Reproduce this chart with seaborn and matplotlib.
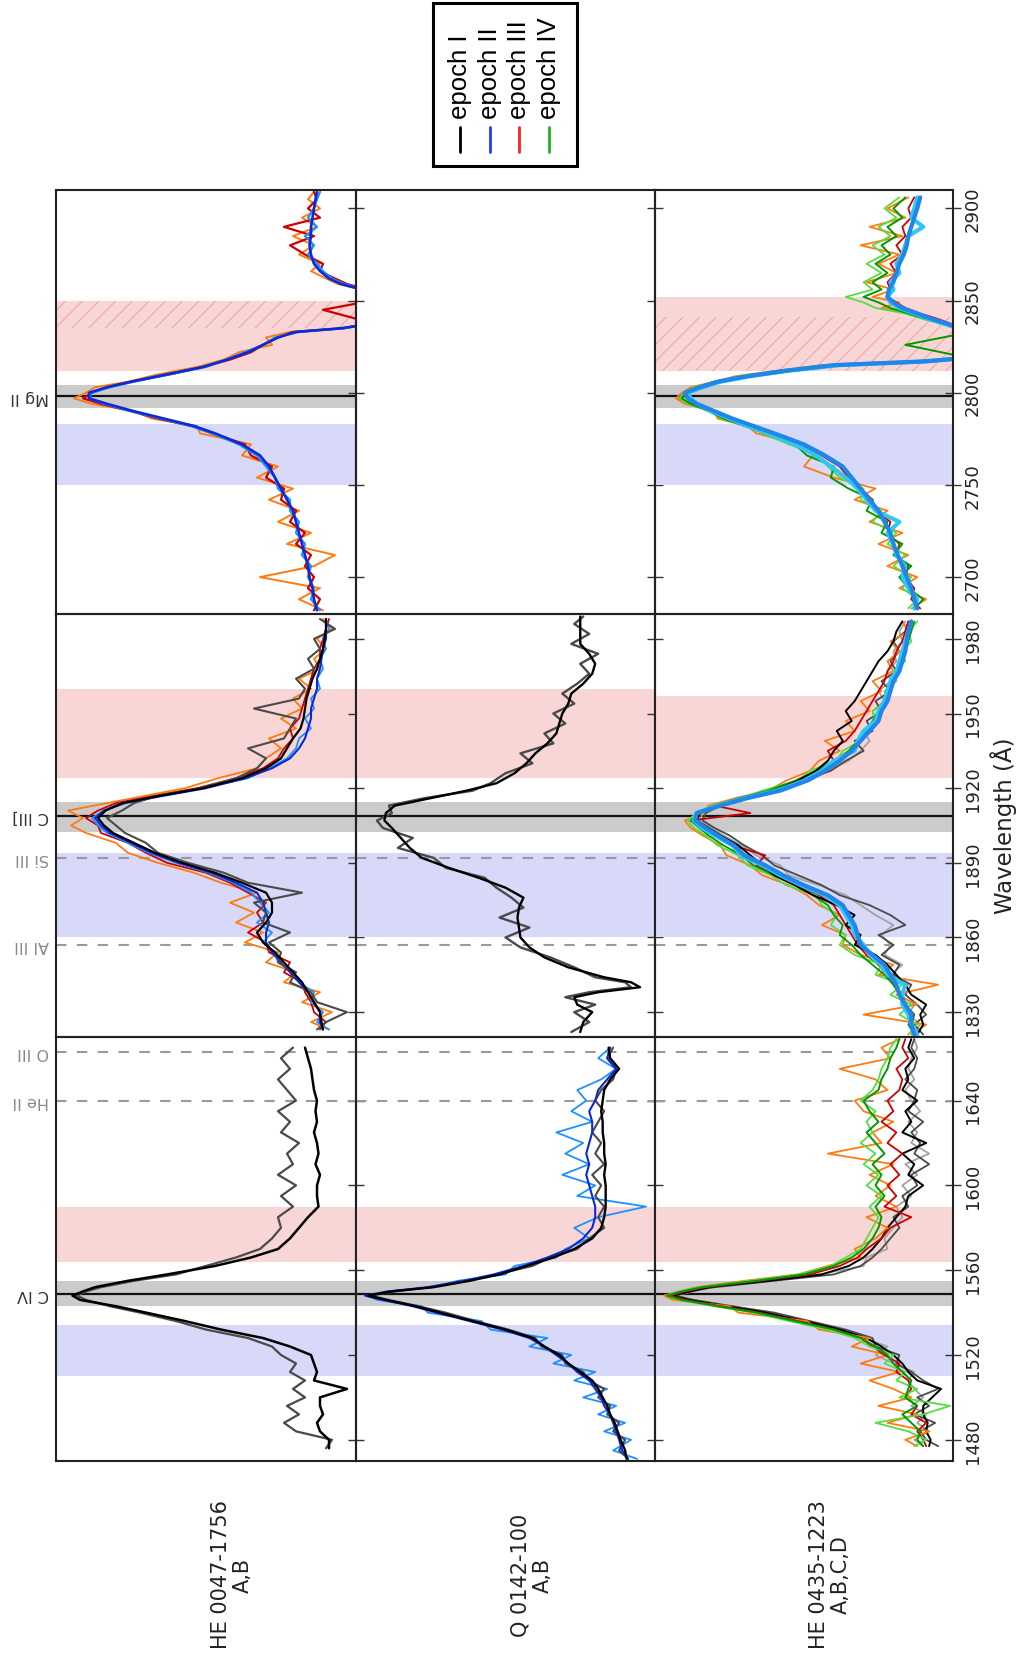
import matplotlib
matplotlib.use("Agg")
import matplotlib.pyplot as plt
import seaborn as sns
from matplotlib.transforms import blended_transform_factory
from matplotlib.patches import Rectangle
from matplotlib.lines import Line2D

# ----------------------------------------------------------------- data
# wavelength grids (Angstrom) and normalised flux per object / region
wl_he0047_civ = [1476,1480,1484,1488,1492,1496,1500,1504,1508,1512,1516,1520,1524,1528,1532,1536,1540,1543,1546,1548,
                 1550,1552,1555,1558,1562,1566,1570,1575,1580,1585,1590,1595,1600,1605,1610,1615,1620,1625,1630,1635,
                 1640,1645,1650,1655,1660,1665]
he0047_civ_IA = [.09,.09,.12,.13,.11,.12,.12,.03,.14,.13,.14,.15,.22,.31,.45,.57,.70,.80,.92,.945,
                 .91,.87,.76,.63,.47,.35,.26,.22,.19,.16,.125,.13,.13,.12,.135,.125,.13,.14,.13,.135,
                 .13,.14,.145,.15,.16,.17]
he0047_civ_IB = [.10,.08,.20,.24,.19,.23,.17,.21,.17,.22,.20,.25,.28,.36,.50,.60,.72,.82,.90,.93,
                 .90,.85,.74,.60,.50,.40,.32,.28,.25,.26,.21,.25,.20,.26,.21,.23,.19,.25,.22,.26,
                 .20,.23,.26,.22,.25,.21]

wl_q0142_civ = [1471,1475,1480,1484,1488,1492,1496,1500,1504,1508,1512,1516,1520,1524,1528,1532,1536,1540,1543,1546,
                1548,1550,1552,1555,1558,1562,1566,1570,1575,1580,1585,1590,1595,1600,1605,1610,1615,1620,1625,1630,
                1635,1640,1645,1650,1655,1660,1665]
q0142_civ_IA = [.095,.10,.115,.125,.135,.15,.16,.175,.19,.21,.25,.29,.32,.37,.41,.50,.61,.72,.80,.90,
                .96,.88,.74,.62,.52,.43,.34,.27,.21,.18,.17,.165,.165,.165,.17,.165,.17,.17,.175,.175,
                .18,.175,.17,.15,.12,.15,.155]
q0142_civ_IB = [.09,.12,.10,.14,.12,.16,.15,.19,.17,.22,.24,.30,.31,.38,.40,.49,.60,.70,.79,.89,
                .95,.87,.75,.63,.53,.41,.35,.26,.22,.17,.19,.17,.20,.18,.21,.17,.20,.18,.21,.19,
                .17,.20,.18,.14,.13,.16,.14]
q0142_civ_IIA = [.09,.11,.12,.13,.14,.15,.17,.18,.20,.22,.26,.29,.33,.37,.42,.51,.62,.73,.81,.91,
                 .97,.89,.76,.64,.54,.44,.36,.29,.24,.21,.20,.20,.21,.22,.23,.22,.23,.22,.21,.21,
                 .22,.20,.19,.16,.13,.16,.15]
q0142_civ_IIB = [.06,.14,.08,.17,.10,.19,.13,.24,.16,.27,.20,.34,.28,.42,.36,.55,.58,.76,.78,.93,
                 .96,.90,.74,.66,.50,.47,.33,.30,.22,.27,.19,.03,.26,.20,.31,.22,.30,.24,.33,.21,
                 .28,.23,.26,.18,.13,.19,.15]

wl_he0435_civ = [1477,1480,1484,1488,1492,1496,1500,1504,1508,1512,1516,1520,1524,1528,1532,1536,1540,1543,1546,1548,
                 1550,1552,1555,1558,1562,1566,1570,1575,1580,1585,1590,1595,1600,1605,1610,1615,1620,1625,1630,1635,
                 1640,1645,1650,1655,1660,1665,1669]
he0435_civ_IA = [.08,.075,.09,.085,.10,.10,.07,.04,.12,.15,.17,.20,.24,.29,.38,.50,.63,.76,.89,.945,
                 .88,.82,.62,.44,.35,.30,.27,.24,.22,.19,.16,.15,.10,.15,.13,.17,.09,.17,.14,.16,
                 .12,.17,.15,.16,.13,.15,.14]
he0435_civ_IB = [.05,.09,.11,.06,.13,.08,.12,.05,.10,.14,.19,.18,.26,.27,.36,.48,.60,.74,.87,.93,
                 .89,.80,.60,.40,.31,.27,.24,.21,.18,.20,.15,.17,.12,.14,.08,.13,.11,.14,.10,.15,
                 .13,.12,.16,.13,.12,.14,.13]
he0435_civ_IC = [.10,.13,.08,.12,.09,.14,.10,.13,.15,.13,.20,.26,.22,.30,.37,.51,.62,.75,.88,.94,
                 .87,.81,.61,.45,.30,.29,.22,.23,.20,.17,.19,.14,.17,.12,.16,.08,.14,.12,.15,.11,
                 .14,.16,.13,.15,.14,.12,.13]
he0435_civ_IIIA = [.09,.10,.12,.09,.14,.12,.16,.14,.15,.19,.18,.23,.27,.31,.40,.52,.65,.78,.90,.95,
                   .90,.83,.65,.48,.38,.32,.29,.24,.21,.14,.23,.19,.22,.18,.21,.17,.22,.19,.24,.20,
                   .22,.18,.17,.19,.15,.17,.16]
he0435_civ_IIIB = [.12,.16,.08,.22,.12,.25,.14,.20,.28,.18,.31,.22,.34,.28,.45,.49,.72,.75,.94,.97,
                   .92,.86,.70,.52,.42,.31,.33,.26,.22,.29,.19,.26,.21,.28,.20,.42,.24,.27,.20,.30,
                   .33,.22,.26,.38,.21,.24,.18]
he0435_civ_IVA = [.10,.12,.11,.14,.17,.12,.16,.15,.14,.17,.20,.22,.26,.31,.40,.53,.66,.79,.91,.96,
                  .91,.84,.66,.50,.40,.34,.30,.27,.25,.24,.26,.23,.26,.24,.27,.23,.26,.29,.25,.28,
                  .30,.25,.24,.22,.21,.19,.18]
he0435_civ_IVB = [.13,.09,.15,.26,.10,.01,.18,.12,.19,.16,.23,.20,.28,.33,.42,.55,.67,.80,.92,.96,
                  .92,.85,.68,.52,.41,.36,.31,.29,.27,.25,.28,.24,.29,.25,.30,.26,.31,.27,.29,.26,
                  .31,.27,.25,.24,.22,.21,.19]

wl_he0047_ciii = [1823,1826,1830,1834,1838,1842,1846,1850,1854,1858,1862,1866,1870,1874,1878,1882,1886,1890,1894,1898,
                  1902,1905,1908,1911,1914,1917,1920,1924,1928,1932,1936,1940,1944,1948,1952,1956,1960,1964,1968,1972,
                  1976,1980,1984,1988]
he0047_ciii_IA = [.11,.115,.12,.14,.16,.18,.21,.24,.27,.31,.33,.30,.28,.28,.30,.38,.47,.58,.67,.74,
                  .81,.84,.86,.835,.78,.65,.51,.38,.30,.25,.23,.21,.185,.175,.17,.165,.155,.145,.13,.12,
                  .11,.105,.10,.10]
he0047_ciii_IB = [.13,.10,.03,.13,.15,.22,.20,.26,.25,.29,.22,.31,.30,.34,.18,.36,.44,.56,.66,.70,
                  .77,.80,.83,.78,.74,.66,.52,.40,.33,.30,.36,.24,.22,.20,.34,.19,.17,.20,.14,.16,
                  .12,.14,.07,.12]
he0047_ciii_IIA = [.11,.12,.12,.14,.16,.19,.22,.25,.28,.30,.30,.29,.30,.31,.33,.40,.48,.59,.68,.75,
                   .82,.85,.87,.84,.77,.64,.50,.37,.28,.22,.19,.17,.16,.15,.15,.14,.13,.13,.12,.115,
                   .11,.10,.10,.10]
he0047_ciii_IIB = [.09,.13,.11,.15,.14,.19,.21,.26,.27,.31,.28,.33,.29,.32,.35,.41,.49,.60,.69,.76,
                   .83,.86,.88,.84,.78,.65,.51,.36,.29,.23,.20,.19,.15,.17,.14,.15,.12,.13,.11,.12,
                   .10,.11,.09,.10]
he0047_ciii_IIIA = [.12,.10,.14,.15,.17,.18,.24,.22,.29,.30,.36,.31,.33,.30,.36,.42,.50,.63,.70,.76,
                    .85,.86,.90,.86,.80,.67,.53,.40,.31,.26,.24,.21,.22,.19,.18,.17,.16,.15,.14,.12,
                    .12,.11,.10,.09]
he0047_ciii_IIIB = [.09,.15,.08,.18,.12,.24,.20,.30,.26,.37,.31,.40,.34,.42,.33,.45,.54,.66,.76,.80,
                    .90,.95,.91,.96,.83,.70,.57,.46,.33,.30,.25,.29,.20,.25,.18,.21,.15,.19,.12,.14,
                    .10,.13,.08,.11]

wl_q0142_ciii = [1822,1826,1830,1833,1836,1838,1840,1842,1844,1848,1852,1856,1860,1864,1868,1872,1876,1880,1884,1888,
                 1892,1896,1900,1904,1907,1910,1913,1916,1919,1922,1926,1930,1934,1938,1942,1946,1950,1954,1958,1962,
                 1966,1970,1974,1978,1982,1986,1989]
q0142_ciii_IA = [.25,.24,.21,.26,.27,.19,.05,.08,.17,.29,.37,.42,.45,.455,.46,.455,.44,.50,.59,.69,
                 .78,.82,.85,.88,.905,.90,.87,.75,.63,.53,.47,.43,.40,.36,.33,.32,.31,.29,.28,.24,
                 .21,.20,.22,.25,.25,.25,.25]
q0142_ciii_IB = [.28,.22,.27,.20,.30,.22,.08,.10,.20,.27,.35,.45,.50,.42,.52,.44,.48,.53,.57,.70,
                 .74,.86,.81,.91,.93,.88,.89,.77,.61,.55,.50,.41,.45,.34,.37,.30,.34,.27,.31,.26,
                 .22,.25,.19,.28,.22,.27,.24]

wl_he0435_ciii = [1821,1825,1829,1833,1837,1841,1845,1849,1853,1857,1861,1865,1869,1873,1877,1881,1885,1889,1893,1897,
                  1901,1904,1907,1910,1913,1916,1919,1923,1927,1931,1935,1939,1943,1947,1951,1955,1959,1963,1967,1971,
                  1975,1979,1983,1987]
he0435_ciii_IIA = [.13,.14,.14,.16,.18,.19,.21,.23,.27,.31,.32,.33,.35,.37,.42,.50,.57,.63,.70,.735,
                   .79,.83,.865,.86,.78,.69,.58,.49,.43,.38,.34,.31,.28,.25,.24,.22,.21,.20,.18,.17,
                   .16,.155,.15,.14]
he0435_ciii_IIB = [.12,.14,.15,.17,.17,.16,.22,.24,.28,.30,.33,.34,.36,.38,.43,.51,.58,.64,.71,.74,
                   .80,.84,.87,.86,.79,.70,.59,.50,.44,.40,.33,.32,.30,.26,.25,.23,.22,.21,.19,.18,
                   .17,.16,.15,.14]
he0435_ciii_IA = [.12,.10,.11,.09,.14,.16,.19,.22,.26,.33,.31,.36,.33,.39,.47,.53,.60,.64,.68,.72,
                  .78,.82,.86,.85,.80,.71,.60,.52,.46,.42,.40,.37,.39,.34,.36,.33,.31,.29,.27,.25,
                  .22,.20,.19,.17]
he0435_ciii_IB = [.10,.13,.09,.12,.16,.14,.20,.18,.24,.20,.25,.16,.21,.28,.38,.44,.52,.60,.64,.70,
                  .75,.80,.84,.83,.78,.70,.58,.50,.41,.36,.30,.33,.27,.29,.24,.26,.21,.24,.19,.21,
                  .18,.20,.16,.15]
he0435_ciii_IC = [.14,.11,.15,.13,.18,.15,.21,.17,.23,.21,.24,.20,.26,.31,.36,.45,.55,.58,.66,.71,
                  .77,.81,.85,.84,.79,.69,.59,.48,.42,.35,.31,.28,.30,.26,.27,.23,.25,.21,.22,.19,
                  .20,.17,.18,.16]
he0435_ciii_IIIA = [.12,.14,.13,.16,.17,.20,.22,.25,.29,.32,.34,.36,.38,.40,.45,.52,.59,.66,.63,.74,
                    .80,.84,.88,.68,.80,.70,.60,.51,.45,.40,.42,.36,.33,.31,.29,.27,.25,.23,.22,.20,
                    .19,.17,.16,.15]
he0435_ciii_IIIB = [.14,.09,.30,.12,.19,.05,.25,.20,.31,.37,.36,.44,.38,.45,.49,.55,.64,.68,.76,.78,
                    .84,.88,.90,.84,.82,.73,.62,.56,.48,.45,.38,.43,.33,.36,.28,.31,.24,.27,.20,.22,
                    .18,.21,.15,.17]
he0435_ciii_IVA = [.13,.15,.13,.17,.18,.20,.23,.27,.31,.34,.38,.37,.40,.42,.47,.53,.60,.67,.71,.77,
                   .82,.85,.88,.85,.79,.72,.62,.53,.46,.40,.35,.32,.29,.27,.25,.23,.22,.20,.19,.17,
                   .16,.15,.14,.13]
he0435_ciii_IVB = [.15,.12,.18,.14,.21,.17,.26,.24,.33,.38,.36,.41,.39,.44,.46,.56,.61,.69,.72,.79,
                   .83,.87,.89,.86,.81,.71,.64,.52,.48,.39,.37,.31,.30,.26,.27,.22,.23,.19,.20,.16,
                   .17,.14,.15,.12]

wl_he0047_mgii = [2682,2688,2694,2700,2706,2712,2718,2724,2730,2736,2742,2748,2754,2760,2766,2772,2778,2782,2786,2790,
                  2794,2797,2800,2803,2806,2810,2814,2818,2822,2826,2830,2833,2835,2838,2845,2852,2856,2859,2862,2866,
                  2870,2875,2880,2885,2890,2895,2900,2905,2909]
he0047_mgii_IIA = [.13,.14,.145,.155,.16,.17,.18,.19,.20,.21,.23,.25,.27,.29,.32,.38,.47,.54,.64,.74,
                   .83,.89,.89,.83,.75,.63,.51,.43,.36,.31,.26,.20,.05,-.08,-.15,-.12,-.02,.05,.09,.12,
                   .14,.15,.155,.15,.15,.145,.14,.135,.13]
he0047_mgii_IIB = [.12,.15,.14,.16,.15,.18,.17,.20,.19,.22,.22,.26,.27,.30,.33,.39,.48,.55,.65,.75,
                   .84,.89,.88,.82,.74,.62,.50,.43,.37,.31,.27,.19,.04,-.08,-.15,-.12,-.03,.04,.08,.11,
                   .13,.16,.14,.17,.13,.16,.14,.13,.12]
he0047_mgii_IIIA = [.14,.12,.16,.14,.17,.15,.20,.17,.22,.20,.25,.24,.30,.28,.35,.37,.48,.55,.66,.75,
                    .85,.91,.88,.83,.75,.62,.51,.42,.35,.31,.26,.21,.04,-.05,.11,-.12,-.04,.03,.07,.12,
                    .11,.17,.22,.14,.24,.12,.16,.13,.14]
he0047_mgii_IIIB = [.11,.19,.12,.32,.14,.07,.23,.15,.26,.19,.29,.21,.33,.26,.38,.35,.52,.53,.68,.74,
                    .88,.94,.90,.87,.76,.66,.53,.44,.39,.28,.30,.22,.05,-.06,-.13,-.10,-.02,.06,.10,.15,
                    .12,.19,.14,.21,.13,.18,.12,.16,.14]

wl_he0435_mgii = [2683,2688,2694,2700,2706,2712,2718,2724,2730,2736,2742,2748,2754,2760,2766,2772,2778,2782,2786,2790,
                  2794,2797,2800,2803,2806,2809,2812,2815,2817,2819,2826,2833,2837,2840,2843,2846,2849,2852,2856,2860,
                  2865,2870,2875,2880,2885,2890,2895,2900,2906]
he0435_mgii_IIA = [.12,.13,.14,.155,.17,.185,.20,.21,.23,.25,.28,.31,.34,.37,.43,.50,.60,.67,.74,.80,
                   .86,.89,.90,.85,.79,.69,.56,.40,.10,-.05,-.12,-.06,.01,.07,.12,.17,.20,.22,.215,.20,
                   .19,.18,.165,.155,.15,.14,.13,.12,.11]
he0435_mgii_IIB = [.13,.12,.15,.17,.16,.19,.20,.22,.18,.26,.29,.32,.36,.41,.46,.53,.62,.69,.75,.81,
                   .86,.88,.89,.84,.78,.68,.55,.38,.09,-.05,-.12,-.05,.02,.08,.13,.18,.21,.22,.20,.21,
                   .18,.19,.17,.16,.15,.10,.14,.13,.12]
he0435_mgii_IVA = [.13,.10,.15,.18,.14,.20,.17,.24,.22,.29,.27,.35,.41,.40,.49,.53,.63,.70,.77,.82,
                   .88,.91,.89,.86,.80,.70,.58,.42,.12,-.05,.16,-.06,.02,.09,.15,.21,.25,.30,.24,.27,
                   .22,.26,.21,.24,.19,.22,.17,.20,.16]
he0435_mgii_IVB = [.15,.12,.17,.14,.20,.16,.22,.19,.27,.24,.31,.30,.38,.42,.45,.55,.64,.68,.78,.81,
                   .89,.92,.90,.87,.79,.72,.57,.43,.13,-.04,-.12,-.05,.03,.10,.16,.26,.30,.36,.27,.30,
                   .24,.29,.23,.27,.21,.25,.19,.23,.18]
he0435_mgii_IIIA = [.11,.14,.13,.16,.15,.19,.18,.22,.21,.26,.27,.31,.35,.38,.44,.51,.61,.68,.75,.81,
                    .88,.92,.90,.85,.78,.69,.56,.40,.10,-.05,-.12,-.06,.00,.05,.11,.16,.19,.22,.21,.22,
                    .19,.21,.17,.19,.16,.17,.14,.15,.13]
he0435_mgii_IIIB = [.14,.09,.18,.12,.22,.15,.25,.17,.28,.22,.33,.26,.40,.50,.47,.52,.66,.69,.79,.80,
                    .90,.93,.91,.88,.80,.73,.59,.44,.14,-.04,-.12,-.05,.02,.08,.14,.24,.18,.27,.20,.29,
                    .19,.25,.18,.31,.17,.28,.16,.22,.15]

# axis set-up per wavelength row (0: Mg II, 1: C III], 2: C IV)
row_limits = [(2680, 2910), (1820, 1990), (1470, 1670)]
row_ticks = [[2700, 2750, 2800, 2850, 2900],
             [1830, 1860, 1890, 1920, 1950, 1980],
             [1480, 1520, 1560, 1600, 1640]]
object_names = ["HE 0047-1756\nA,B", "Q 0142-100\nA,B", "HE 0435-1223\nA,B,C,D"]
legend_labels = ["epoch I", "epoch II", "epoch III", "epoch IV"]
legend_colors = ["#000000", "#1f3dff", "#ff2020", "#22b022"]

# emission lines (name, wavelength, solid?)
row_lines = [[("Mg II", 2798, True)],
             [("C III]", 1909, True), ("Si III", 1892, False), ("Al III", 1857, False)],
             [("C IV", 1549, True), ("He II", 1640, False), ("O III", 1663, False)]]

GRAYB, BLUEB, REDB = "#cbcbcb", "#d8d8f8", "#f9d6d6"
# shaded windows per (row, col): (low, high, colour, hatched)
bands = {
    (0, 0): [(2750, 2783, BLUEB, False), (2792, 2804, GRAYB, False),
             (2812, 2835, REDB, False), (2835, 2850, REDB, True)],
    (0, 1): [],
    (0, 2): [(2750, 2783, BLUEB, False), (2792, 2804, GRAYB, False),
             (2812, 2841, REDB, True), (2841, 2852, REDB, False)],
    (1, 0): [(1860, 1894, BLUEB, False), (1902.5, 1914.5, GRAYB, False), (1924, 1960, REDB, False)],
    (1, 1): [(1860, 1894, BLUEB, False), (1902.5, 1914.5, GRAYB, False), (1924, 1960, REDB, False)],
    (1, 2): [(1860, 1894, BLUEB, False), (1902.5, 1914.5, GRAYB, False), (1924, 1957, REDB, False)],
    (2, 0): [(1510, 1534, BLUEB, False), (1543, 1555, GRAYB, False), (1564, 1590, REDB, False)],
    (2, 1): [(1510, 1534, BLUEB, False), (1543, 1555, GRAYB, False), (1564, 1590, REDB, False)],
    (2, 2): [(1510, 1534, BLUEB, False), (1543, 1555, GRAYB, False), (1564, 1590, REDB, False)],
}

K, GR, SI = "#000000", "#4a4a4a", "#a3a3a3"
BL, LB, TB, SK = "#0a2ad8", "#1e90ff", "#1f86ea", "#2fc6f6"
RD, OR, GN, LG = "#cc0000", "#ff7b0f", "#009a00", "#55dd44"

# (row, col, wavelengths, flux, colour, linewidth)
series = [
    (2, 0, wl_he0047_civ, he0047_civ_IB, GR, 1.6),
    (2, 0, wl_he0047_civ, he0047_civ_IA, K, 1.8),
    (1, 0, wl_he0047_ciii, he0047_ciii_IIIB, OR, 1.3),
    (1, 0, wl_he0047_ciii, he0047_ciii_IIIA, RD, 1.3),
    (1, 0, wl_he0047_ciii, he0047_ciii_IIB, LB, 1.3),
    (1, 0, wl_he0047_ciii, he0047_ciii_IIA, BL, 1.5),
    (1, 0, wl_he0047_ciii, he0047_ciii_IB, GR, 1.5),
    (1, 0, wl_he0047_ciii, he0047_ciii_IA, K, 1.6),
    (0, 0, wl_he0047_mgii, he0047_mgii_IIIB, OR, 1.4),
    (0, 0, wl_he0047_mgii, he0047_mgii_IIIA, RD, 1.6),
    (0, 0, wl_he0047_mgii, he0047_mgii_IIB, LB, 1.6),
    (0, 0, wl_he0047_mgii, he0047_mgii_IIA, BL, 1.9),
    (2, 1, wl_q0142_civ, q0142_civ_IIB, LB, 1.3),
    (2, 1, wl_q0142_civ, q0142_civ_IB, GR, 1.5),
    (2, 1, wl_q0142_civ, q0142_civ_IIA, BL, 1.5),
    (2, 1, wl_q0142_civ, q0142_civ_IA, K, 1.7),
    (1, 1, wl_q0142_ciii, q0142_ciii_IB, GR, 1.7),
    (1, 1, wl_q0142_ciii, q0142_ciii_IA, K, 1.7),
    (2, 2, wl_he0435_civ, he0435_civ_IC, SI, 1.3),
    (2, 2, wl_he0435_civ, he0435_civ_IB, GR, 1.3),
    (2, 2, wl_he0435_civ, he0435_civ_IA, K, 1.4),
    (2, 2, wl_he0435_civ, he0435_civ_IIIB, OR, 1.3),
    (2, 2, wl_he0435_civ, he0435_civ_IIIA, RD, 1.3),
    (2, 2, wl_he0435_civ, he0435_civ_IVB, LG, 1.3),
    (2, 2, wl_he0435_civ, he0435_civ_IVA, GN, 1.4),
    (1, 2, wl_he0435_ciii, he0435_ciii_IC, SI, 1.3),
    (1, 2, wl_he0435_ciii, he0435_ciii_IB, GR, 1.3),
    (1, 2, wl_he0435_ciii, he0435_ciii_IIIB, OR, 1.3),
    (1, 2, wl_he0435_ciii, he0435_ciii_IIIA, RD, 1.3),
    (1, 2, wl_he0435_ciii, he0435_ciii_IVB, LG, 1.3),
    (1, 2, wl_he0435_ciii, he0435_ciii_IVA, GN, 1.3),
    (1, 2, wl_he0435_ciii, he0435_ciii_IA, K, 1.4),
    (1, 2, wl_he0435_ciii, he0435_ciii_IIB, SK, 3.0),
    (1, 2, wl_he0435_ciii, he0435_ciii_IIA, TB, 3.0),
    (0, 2, wl_he0435_mgii, he0435_mgii_IIIB, OR, 1.3),
    (0, 2, wl_he0435_mgii, he0435_mgii_IIIA, RD, 1.3),
    (0, 2, wl_he0435_mgii, he0435_mgii_IVB, LG, 1.3),
    (0, 2, wl_he0435_mgii, he0435_mgii_IVA, GN, 1.4),
    (0, 2, wl_he0435_mgii, he0435_mgii_IIB, SK, 3.0),
    (0, 2, wl_he0435_mgii, he0435_mgii_IIA, TB, 3.0),
]

# ----------------------------------------------------------------- figure
sns.set_theme(style="white")
plt.rcParams["font.family"] = ["DejaVu Sans"]
plt.rcParams["hatch.linewidth"] = 0.7
plt.rcParams["hatch.color"] = "#f0a0a0"

W, H = 1021, 1658
fig = plt.figure(figsize=(W / 100, H / 100), dpi=100)
fig.patch.set_facecolor("white")

col_edges = [56, 356, 655, 953]
row_edges = [191, 615, 1038, 1462]

axes = {}
for r in range(3):
    for c in range(3):
        x0, x1 = col_edges[c], col_edges[c + 1]
        y0, y1 = row_edges[r], row_edges[r + 1]
        ax = fig.add_axes([x0 / W, 1 - y1 / H, (x1 - x0) / W, (y1 - y0) / H])
        ax.set_facecolor("none")
        axes[(r, c)] = ax
        for lo, hi, colr, hatched in bands[(r, c)]:
            if hatched:
                ax.axhspan(lo, hi, facecolor=colr, edgecolor="#f0a0a0", hatch="//", lw=0, zorder=0)
            else:
                ax.axhspan(lo, hi, facecolor=colr, edgecolor="none", lw=0, zorder=0)
        if not (r == 0 and c == 1):
            for name, wl, solid in row_lines[r]:
                if solid:
                    ax.axhline(wl, color="#111111", lw=1.6, zorder=1.5)
                else:
                    ax.axhline(wl, color="#9a9a9a", lw=1.5, ls=(0, (5, 5)), zorder=1.5)

for r, c, wl, fl, colr, lw in series:
    sns.lineplot(x=fl, y=wl, orient="y", sort=False, estimator=None,
                 color=colr, linewidth=lw, ax=axes[(r, c)], zorder=2)

for (r, c), ax in axes.items():
    ax.set_xlim(1.0, 0.0)
    ax.set_ylim(*row_limits[r])
    ax.set_xticks([])
    ax.set_yticks(row_ticks[r])
    ax.set_xlabel("")
    ax.set_ylabel("")
    ax.yaxis.tick_right()
    ax.tick_params(axis="y", which="both", direction="inout", length=12, width=1.0,
                   color="#333333", pad=2, labelsize=13, labelrotation=90,
                   right=True, left=False, labelright=(c == 2), labelleft=False,
                   labelcolor="#222222")
    for lbl in ax.get_yticklabels():
        lbl.set_ha("left")
        lbl.set_va("center")
    for sp in ax.spines.values():
        sp.set_linewidth(1.5)
        sp.set_color("#222222")
        sp.set_zorder(5)
    if c == 0:
        tr = blended_transform_factory(ax.transAxes, ax.transData)
        for name, wl, solid in row_lines[r]:
            ax.text(-0.022, wl, name, transform=tr, rotation=180, ha="right", va="center",
                    fontsize=11.5, color="#333333" if solid else "#8a8a8a")

# object labels
for c, name in enumerate(object_names):
    xc = (col_edges[c] + col_edges[c + 1]) / 2 + 26
    fig.text(xc / W, 1 - 1575 / H, name, rotation=90, ha="center", va="center",
             multialignment="center", fontsize=15, color="#222222", linespacing=1.15)

fig.text(1004 / W, 1 - 826 / H, "Wavelength (Å)", rotation=90, ha="center", va="center",
         fontsize=16.5, color="#222222")

# legend (rotated, like the rest of the figure)
fig.add_artist(Rectangle((433 / W, 1 - 167 / H), (577 - 433) / W, (167 - 4) / H,
                         transform=fig.transFigure, fill=False, lw=2.2, edgecolor="black"))
for i, (lab, colr) in enumerate(zip(legend_labels, legend_colors)):
    xx = (460 + 29.7 * i) / W
    fig.add_artist(Line2D([xx, xx], [1 - 128 / H, 1 - 153 / H], transform=fig.transFigure,
                          color=colr, lw=2.0))
    fig.text(xx, 1 - 119 / H, lab, rotation=90, ha="center", va="bottom", fontsize=18.5,
             family=["Liberation Sans", "DejaVu Sans"], color="black")

fig.savefig("out.png", dpi=100)
